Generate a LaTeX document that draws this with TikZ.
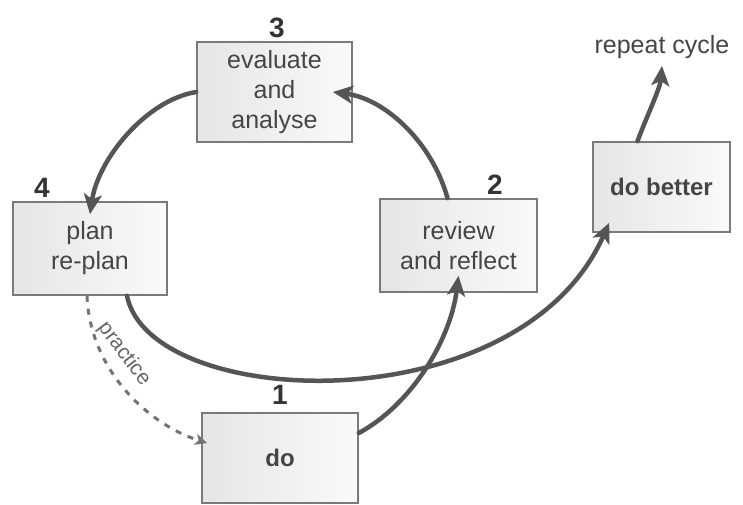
\documentclass[tikz,border=0pt]{standalone}
\usepackage{fontspec}
\setmainfont{Liberation Sans}
\usetikzlibrary{arrows.meta}
\definecolor{arrowgray}{HTML}{555555}
\definecolor{edgegray}{HTML}{7A7A7A}
\definecolor{textgray}{HTML}{454545}
\begin{document}
\begin{tikzpicture}[x=1pt,y=-1pt,
  stage/.style={draw=edgegray, line width=1.6pt, left color=black!10, right color=black!2,
    inner sep=0pt, align=center, text=textgray, font=\fontsize{25}{30}\selectfont},
  stepnum/.style={text=black!80, font=\bfseries\fontsize{28}{28}\selectfont},
  flow/.style={draw=arrowgray, line width=4.5pt, line cap=round,
    -{Stealth[length=20pt,width=18pt,inset=5pt]}},
  tryout/.style={draw=black!55, line width=3pt, dash pattern=on 6pt off 7pt,
    -{Stealth[length=12pt,width=11pt,inset=3pt]}}]
  \useasboundingbox (0,0) rectangle (743,505);
  \fill[white] (0,0) rectangle (743,505);

  % the four stages and the way out of the cycle
  \node[stage, minimum width=155pt, minimum height=100pt] (eval) at (274.5,92) {evaluate\\and\\analyse};
  \node[stage, minimum width=154pt, minimum height=93pt] (plan) at (90,248.5) {plan\\re-plan};
  \node[stage, minimum width=157pt, minimum height=93pt] (review) at (458.5,245.5) {review\\and reflect};
  \node[stage, minimum width=156pt, minimum height=90pt, font=\bfseries\fontsize{24}{30}\selectfont] (do) at (280,458) {do};
  \node[stage, minimum width=137pt, minimum height=90pt, font=\bfseries\fontsize{24}{30}\selectfont] (better) at (661.5,187) {do better};
  \node[text=textgray, font=\fontsize{25}{30}\selectfont, inner sep=0pt] (repeat) at (662,47) {repeat cycle};

  % step numbers
  \node[stepnum] (n1) at (280,395) {1};
  \node[stepnum] (n2) at (495,185) {2};
  \node[stepnum] (n3) at (277,28) {3};
  \node[stepnum] (n4) at (42,188) {4};

  % cycle arrows
  \draw[flow] (eval.west) .. controls +(-50,8) and +(8,-55) .. ([yshift=-13pt]plan.north);
  \draw[flow] ([xshift=-11pt]review.north) .. controls +(-15,-55) and +(53,7) .. ([xshift=-20pt]eval.east);
  \draw[flow] ([xshift=37pt]plan.south) .. controls +(23,115) and +(-90,203) .. ([xshift=17pt,yshift=10pt]better.south west);
  \draw[flow] ([yshift=25pt]do.east) .. controls +(52,-28) and +(-8,65) .. ([yshift=17pt]review.south);
  \draw[flow] ([xshift=-24pt]better.north) .. controls +(8,-22) and +(-2,23) .. ([yshift=-7pt]repeat.south);

  % dashed practice link
  \draw[tryout] ([xshift=-3pt]plan.south) .. controls +(3,75) and +(-58,-18) .. ([xshift=6pt,yshift=15pt]do.west);
  \node[rotate=-53, text=black!60, font=\fontsize{21}{21}\selectfont, inner sep=0pt] (practice) at (124,354) {practice};
\end{tikzpicture}
\end{document}
